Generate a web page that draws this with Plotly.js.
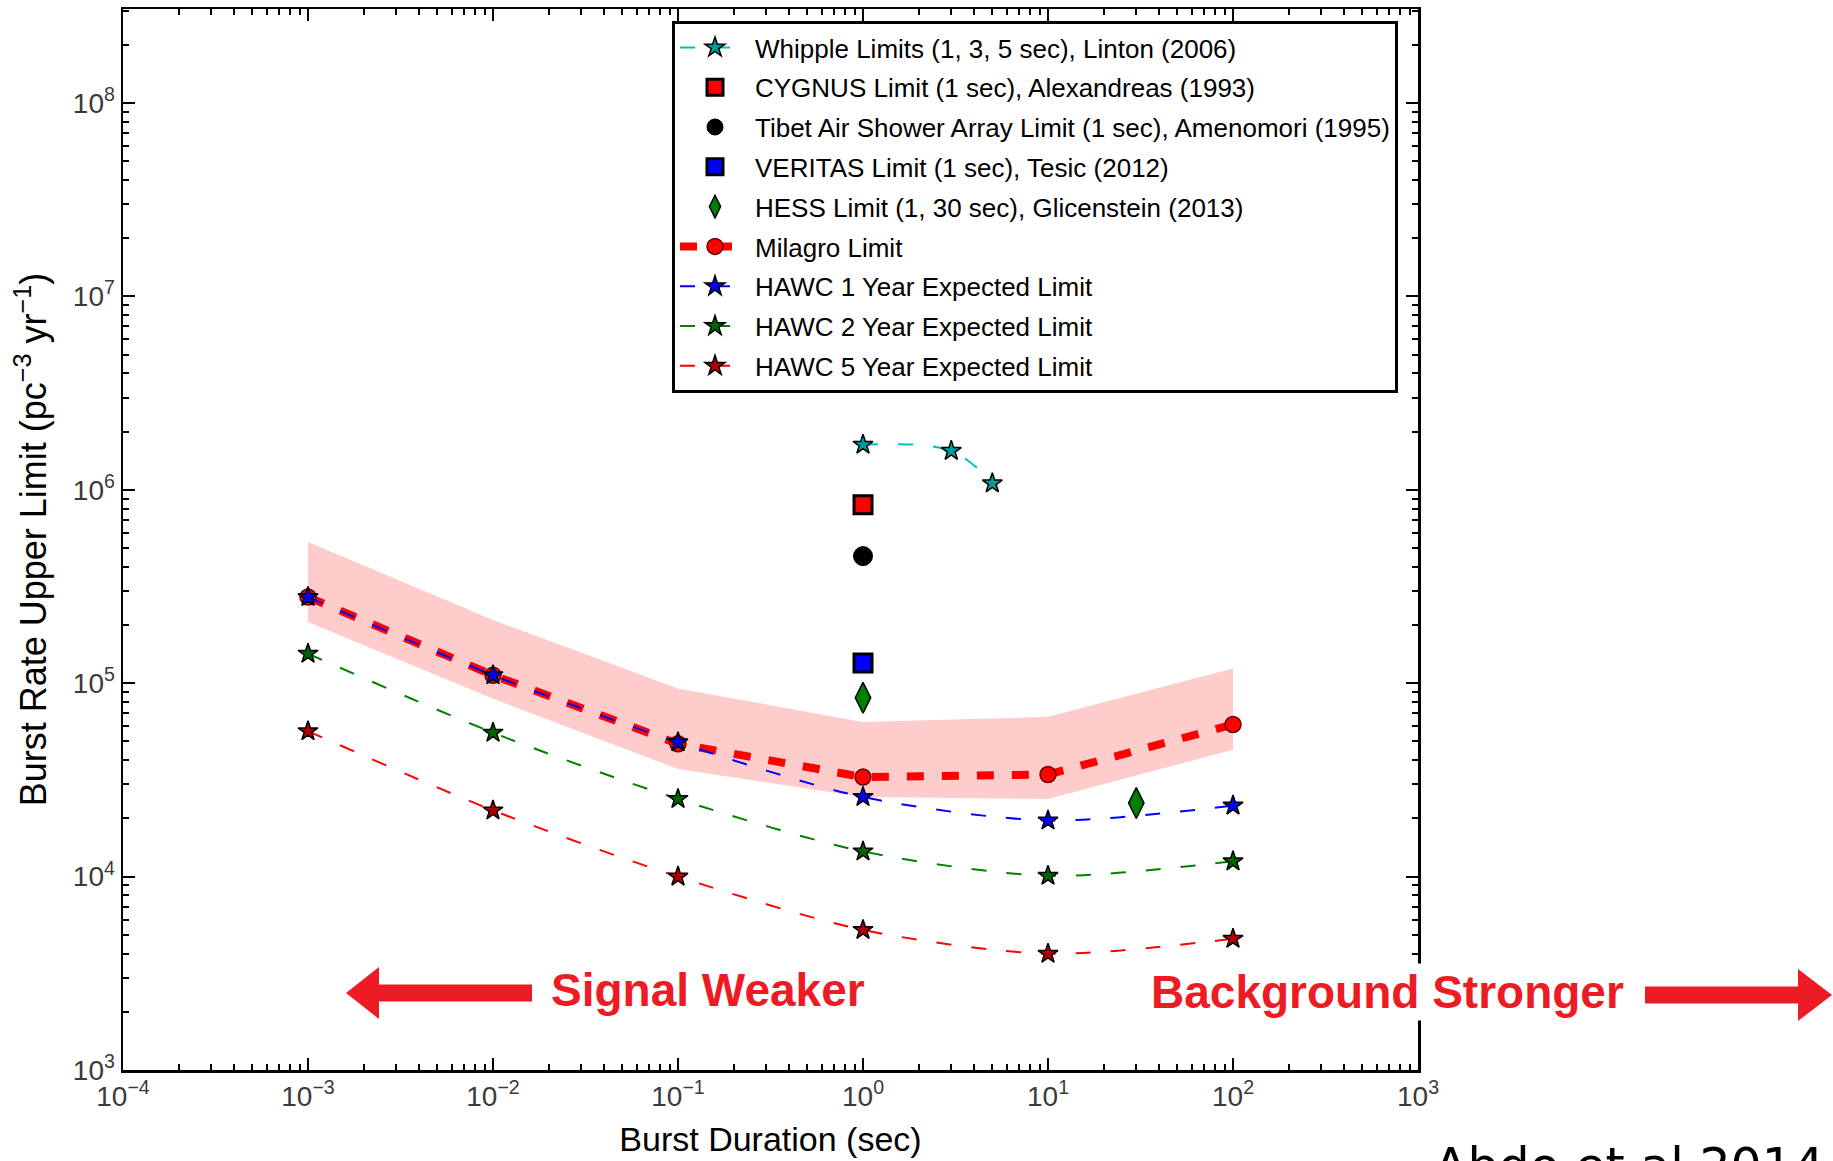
<!DOCTYPE html>
<html>
<head>
<meta charset="utf-8">
<script src="https://cdn.plot.ly/plotly-3.0.1.min.js"></script>
<style>html,body{margin:0;padding:0;background:#fff;}#chart{width:1833px;height:1161px;}</style>
</head>
<body>
<div id="chart"></div>
<script>
// ---------- data ----------
const durations = [1e-3, 1e-2, 1e-1, 1, 10, 100];
const milagro = [2.79e5, 1.10e5, 4.86e4, 3.27e4, 3.37e4, 6.12e4];
const milagroBandUpper = [5.37e5, 2.12e5, 9.4e4, 6.3e4, 6.7e4, 1.19e5];
const milagroBandLower = [2.07e5, 8.3e4, 3.6e4, 2.58e4, 2.52e4, 4.53e4];
const hawc1 = [2.79e5, 1.10e5, 4.95e4, 2.58e4, 1.95e4, 2.33e4];
const hawc2 = [1.42e5, 5.55e4, 2.52e4, 1.35e4, 1.01e4, 1.20e4];
const hawc5 = [5.65e4, 2.2e4, 1.0e4, 5.3e3, 3.99e3, 4.77e3];
const whippleX = [1, 3, 5];
const whippleY = [1.71e6, 1.59e6, 1.08e6];
const cygnusX = [1];
const cygnusY = [8.36e5];
const tibetX = [1];
const tibetY = [4.54e5];
const veritasX = [1];
const veritasY = [1.27e5];
const hessX = [1, 30];
const hessY = [8.4e4, 2.4e4];
const xTickVals = [1e-4, 1e-3, 1e-2, 1e-1, 1, 10, 100, 1000];
const xTickText = ["10<sup>−4</sup>","10<sup>−3</sup>","10<sup>−2</sup>","10<sup>−1</sup>","10<sup>0</sup>","10<sup>1</sup>","10<sup>2</sup>","10<sup>3</sup>"];
const yTickVals = [1e3, 1e4, 1e5, 1e6, 1e7, 1e8];
const yTickText = ["10<sup>3</sup>","10<sup>4</sup>","10<sup>5</sup>","10<sup>6</sup>","10<sup>7</sup>","10<sup>8</sup>"];
const names = {
  whipple: "Whipple Limits (1, 3, 5 sec), Linton (2006)",
  cygnus: "CYGNUS Limit (1 sec), Alexandreas (1993)",
  tibet: "Tibet Air Shower Array Limit (1 sec), Amenomori (1995)",
  veritas: "VERITAS Limit (1 sec), Tesic (2012)",
  hess: "HESS Limit (1, 30 sec), Glicenstein (2013)",
  milagro: "Milagro Limit",
  hawc1: "HAWC 1 Year Expected Limit",
  hawc2: "HAWC 2 Year Expected Limit",
  hawc5: "HAWC 5 Year Expected Limit"
};

// ---------- layout helpers ----------
const W = 1833, H = 1161;
const PL = 123, PR = 1418, PT = 9, PB = 1070;
const px2x = p => (p - PL) / (PR - PL);
const px2y = p => (PB - p) / (PB - PT);
const SANS = "Liberation Sans, Arial, sans-serif";
const RED = "#ED1C24";

function star(color) {
  return {symbol: "star", size: 15, color: color, line: {color: "black", width: 1.5}};
}

const traces = [
  {x: durations.concat(durations.slice().reverse()),
   y: milagroBandUpper.concat(milagroBandLower.slice().reverse()),
   type: "scatter", mode: "lines", fill: "toself", fillcolor: "rgba(255,0,0,0.2)",
   line: {width: 0}, showlegend: false, hoverinfo: "skip"},
  {x: durations, y: milagro, name: names.milagro, legendrank: 6, legendgroup: "g6", type: "scatter", mode: "lines+markers",
   line: {color: "red", width: 8, dash: "17px,18px"},
   marker: {symbol: "circle", size: 16, color: "red", line: {color: "#600", width: 1.5}}},
  {x: durations, y: hawc1, name: names.hawc1, legendrank: 7, legendgroup: "g7", type: "scatter", mode: "lines+markers",
   line: {color: "blue", width: 2, dash: "15px,20px", shape: "spline", smoothing: 0.8}, marker: star("blue")},
  {x: durations, y: hawc2, name: names.hawc2, legendrank: 8, legendgroup: "g8", type: "scatter", mode: "lines+markers",
   line: {color: "green", width: 2, dash: "15px,20px", shape: "spline", smoothing: 0.8}, marker: star("#006400")},
  {x: durations, y: hawc5, name: names.hawc5, legendrank: 9, legendgroup: "g9", type: "scatter", mode: "lines+markers",
   line: {color: "red", width: 2, dash: "15px,20px", shape: "spline", smoothing: 0.8}, marker: star("#b00000")},
  {x: whippleX, y: whippleY, name: names.whipple, legendrank: 1, legendgroup: "g1", type: "scatter", mode: "lines+markers",
   line: {color: "#00BFBF", width: 2, dash: "15px,20px", shape: "spline", smoothing: 1}, marker: star("#009a9a")},
  {x: cygnusX, y: cygnusY, name: names.cygnus, legendrank: 2, legendgroup: "g2", type: "scatter", mode: "markers",
   marker: {symbol: "square", size: 18, color: "red", line: {color: "black", width: 3}}},
  {x: tibetX, y: tibetY, name: names.tibet, legendrank: 3, legendgroup: "g3", type: "scatter", mode: "markers",
   marker: {symbol: "circle", size: 19, color: "black", line: {color: "black", width: 1}}},
  {x: veritasX, y: veritasY, name: names.veritas, legendrank: 4, legendgroup: "g4", type: "scatter", mode: "markers",
   marker: {symbol: "square", size: 18, color: "blue", line: {color: "black", width: 3}}},
  {x: hessX, y: hessY, name: names.hess, legendrank: 5, legendgroup: "g5", type: "scatter", mode: "markers",
   marker: {symbol: "diamond-tall", size: 22, color: "green", line: {color: "black", width: 1.5}}}
];

const axisCommon = {
  type: "log", showgrid: false, zeroline: false, showline: true, linecolor: "black", linewidth: 2.5,
  mirror: "allticks", ticks: "inside", ticklen: 12, tickwidth: 2, tickcolor: "black",
  tickmode: "array",
  tickfont: {family: SANS, size: 28, color: "#3a3a3a"},
  minor: {dtick: "D1", ticks: "inside", ticklen: 6, tickwidth: 2, tickcolor: "black", showgrid: false}
};

const arrowShape = (tip, base, cy, headLen, headHalf, shaftHalf) => {
  const dir = base > tip ? 1 : -1;
  const hb = tip + dir * headLen;
  const pts = [[tip, cy], [hb, cy - headHalf], [hb, cy - shaftHalf], [base, cy - shaftHalf],
               [base, cy + shaftHalf], [hb, cy + shaftHalf], [hb, cy + headHalf]];
  return {type: "path", xref: "paper", yref: "paper", fillcolor: RED, line: {width: 0},
          path: "M" + pts.map(p => px2x(p[0]) + "," + px2y(p[1])).join("L") + "Z"};
};

const layout = {
  width: W, height: H,
  margin: {l: PL, r: W - PR, t: PT, b: H - PB},
  paper_bgcolor: "white", plot_bgcolor: "white",
  showlegend: true,
  xaxis: Object.assign({}, axisCommon, {
    range: [-4, 3], tickvals: xTickVals, ticktext: xTickText,
    title: {text: "Burst Duration (sec)", font: {family: SANS, size: 34, color: "black"}, standoff: 16}
  }),
  yaxis: Object.assign({}, axisCommon, {
    range: [3, 8.486], tickvals: yTickVals, ticktext: yTickText,
    title: {text: "Burst Rate Upper Limit (pc<sup>−3</sup> yr<sup>−1</sup>)", font: {family: SANS, size: 36, color: "black"}, standoff: 15}
  }),
  legend: {
    x: px2x(672), y: px2y(21), xanchor: "left", yanchor: "top",
    bgcolor: "white", bordercolor: "black", borderwidth: 3,
    font: {family: SANS, size: 26, color: "black"},
    itemwidth: 70, traceorder: "grouped", tracegroupgap: 3
  },
  shapes: [
    arrowShape(346, 532, 993, 33, 26, 8.5),
    arrowShape(1832, 1645, 995, 34, 26, 8.5)
  ],
  annotations: [
    {xref: "paper", yref: "paper", x: px2x(549), y: px2y(990), xanchor: "left", yanchor: "middle",
     text: "<b>Signal Weaker</b>", showarrow: false, font: {family: SANS, size: 46, color: RED}},
    {xref: "paper", yref: "paper", x: px2x(1148), y: px2y(992), xanchor: "left", yanchor: "middle",
     text: "<b>Background Stronger</b>", showarrow: false, bgcolor: "white", borderpad: 2,
     font: {family: SANS, size: 46, color: RED}},
    {xref: "paper", yref: "paper", x: px2x(1432), y: px2y(1136), xanchor: "left", yanchor: "top",
     text: "Abdo et al 2014", showarrow: false, font: {family: "DejaVu Sans, sans-serif", size: 49, color: "black"}}
  ]
};

Plotly.newPlot("chart", traces, layout, {staticPlot: true, displayModeBar: false});
</script>
</body>
</html>
